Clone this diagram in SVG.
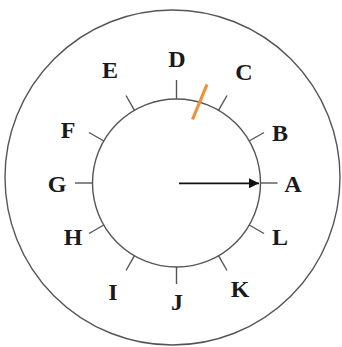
<svg xmlns="http://www.w3.org/2000/svg" width="342" height="347" viewBox="0 0 342 347">
<style>
.c{fill:none;stroke:#555;stroke-width:1.4}
.t{stroke:#555;stroke-width:1.4}
.l{font-family:"Liberation Serif","Times New Roman",serif;font-weight:bold;font-size:24px;fill:#1a1a1a;text-anchor:middle;dominant-baseline:central}
</style>
<defs>
<marker id="ah" viewBox="0 0 10 10" refX="10" refY="5" markerWidth="12" markerHeight="10" markerUnits="userSpaceOnUse" orient="auto">
<path d="M0,0 L10,5 L0,10 Z" fill="#111"/>
</marker>
</defs>
<rect width="342" height="347" fill="#fff"/>
<g id="outer"><circle class="c" cx="172.5" cy="177.5" r="167.5"/></g>
<g id="inner"><circle class="c" cx="176.5" cy="183" r="84"/></g>
<g id="ticks">
<line class="t" x1="260.5" y1="183" x2="277.5" y2="183"/>
<line class="t" x1="249.2" y1="141" x2="264" y2="132.5"/>
<line class="t" x1="218.5" y1="110.3" x2="227" y2="95.5"/>
<line class="t" x1="176.5" y1="99" x2="176.5" y2="80"/>
<line class="t" x1="134.5" y1="110.3" x2="126" y2="95.5"/>
<line class="t" x1="103.8" y1="141" x2="89" y2="132.5"/>
<line class="t" x1="92.5" y1="183" x2="75" y2="183"/>
<line class="t" x1="103.8" y1="225" x2="89" y2="233.5"/>
<line class="t" x1="134.5" y1="255.7" x2="126" y2="270.5"/>
<line class="t" x1="176.5" y1="267" x2="176.5" y2="284"/>
<line class="t" x1="218.5" y1="255.7" x2="227" y2="270.5"/>
<line class="t" x1="249.2" y1="225" x2="264" y2="233.5"/>
</g>
<g id="connectors">
<line x1="179" y1="183.3" x2="259" y2="183.3" stroke="#111" stroke-width="1.8" marker-end="url(#ah)"/>
<line x1="207" y1="84.5" x2="192.5" y2="119.5" stroke="#f0903a" stroke-width="3.2"/>
</g>
<g id="labels">
<text class="l" x="293" y="184">A</text>
<text class="l" x="280" y="133">B</text>
<text class="l" x="244" y="72">C</text>
<text class="l" x="177" y="59">D</text>
<text class="l" x="110" y="70">E</text>
<text class="l" x="68" y="130">F</text>
<text class="l" x="57" y="184">G</text>
<text class="l" x="73" y="237">H</text>
<text class="l" x="113" y="292">I</text>
<text class="l" x="177" y="302">J</text>
<text class="l" x="240" y="289">K</text>
<text class="l" x="280" y="237">L</text>
</g>
</svg>
